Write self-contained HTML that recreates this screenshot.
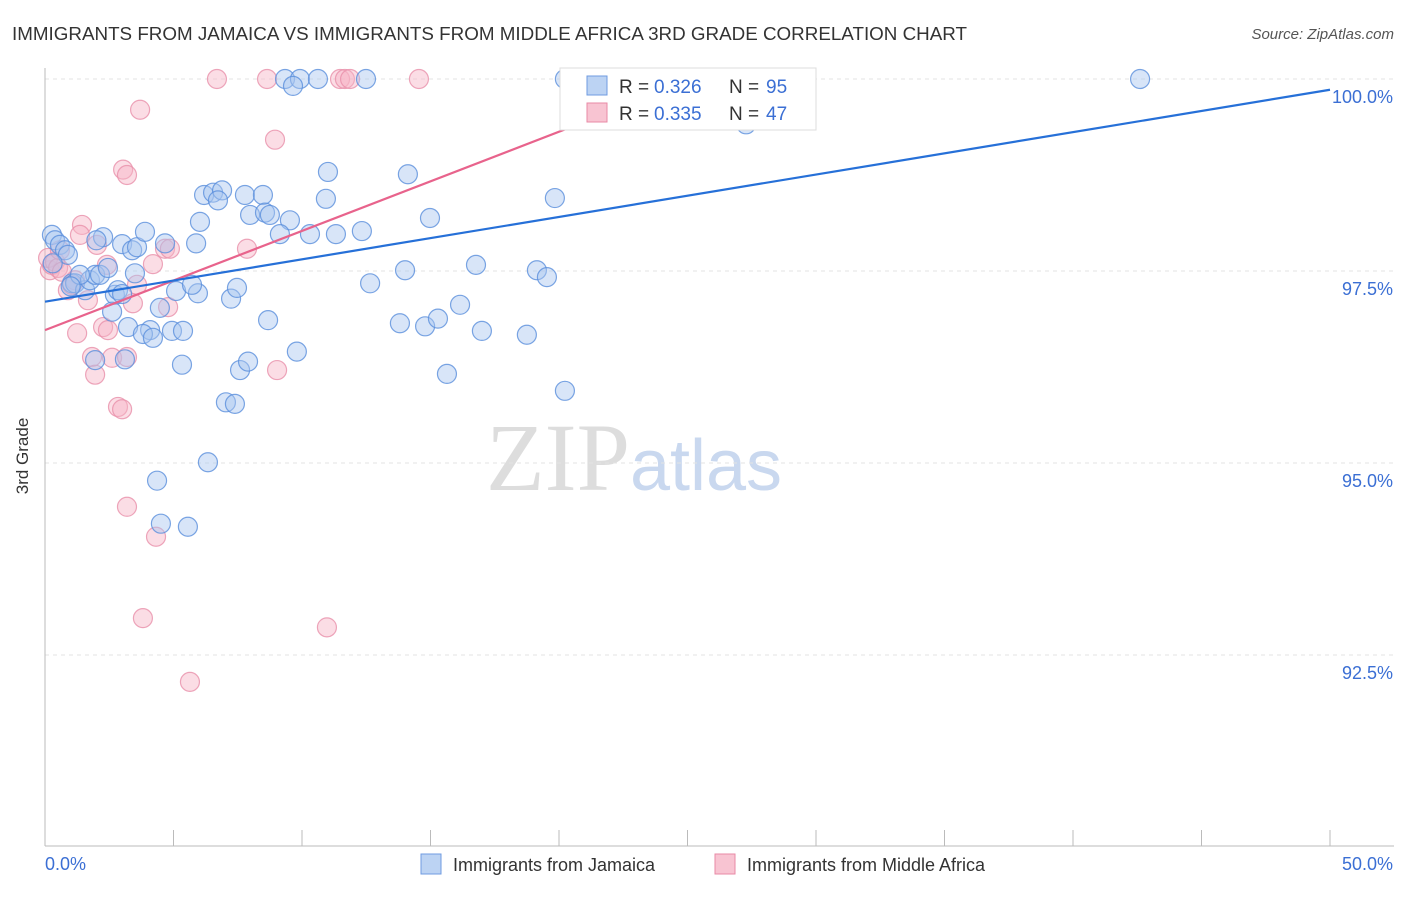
<!DOCTYPE html>
<html><head><meta charset="utf-8"><style>
body{margin:0;background:#fff;font-family:"Liberation Sans",sans-serif;}
</style></head><body>
<svg width="1406" height="892" xmlns="http://www.w3.org/2000/svg" font-family="Liberation Sans, sans-serif">
<text x="12" y="40" font-size="18" fill="#333" textLength="955" lengthAdjust="spacingAndGlyphs">IMMIGRANTS FROM JAMAICA VS IMMIGRANTS FROM MIDDLE AFRICA 3RD GRADE CORRELATION CHART</text>
<text x="1394" y="39" font-size="15" fill="#555" font-style="italic" text-anchor="end">Source: ZipAtlas.com</text>
<text x="634" y="490" font-size="96" fill="#ddd" text-anchor="middle" font-family="Liberation Serif, serif">ZIP<tspan fill="#c9d8ef" font-family="Liberation Sans, sans-serif" font-size="72">atlas</tspan></text>
<g id="grid"></g>
<line x1="45" y1="68" x2="45" y2="846" stroke="#bbb"/>
<line x1="45" y1="846" x2="1394" y2="846" stroke="#bbb"/>
<text x="28" y="456" font-size="17" fill="#333" transform="rotate(-90 28 456)" text-anchor="middle">3rd Grade</text>
<text x="45" y="870" font-size="18" fill="#3b6fd4">0.0%</text>
<text x="1393" y="870" font-size="18" fill="#3b6fd4" text-anchor="end">50.0%</text>
<g id="pts"></g>
<g id="lines"></g>
<g>
<rect x="560" y="68" width="256" height="62" fill="#fff" stroke="#ddd"/>
<rect x="587" y="76" width="20" height="19" fill="#bcd3f3" stroke="#6f9be0"/>
<rect x="587" y="103" width="20" height="19" fill="#f8c4d2" stroke="#e88aa6"/>
<text x="619" y="93" font-size="19" fill="#333">R =</text>
<text x="654" y="93" font-size="19" fill="#3b6fd4">0.326</text>
<text x="729" y="93" font-size="19" fill="#333">N =</text>
<text x="766" y="93" font-size="19" fill="#3b6fd4">95</text>
<text x="619" y="120" font-size="19" fill="#333">R =</text>
<text x="654" y="120" font-size="19" fill="#3b6fd4">0.335</text>
<text x="729" y="120" font-size="19" fill="#333">N =</text>
<text x="766" y="120" font-size="19" fill="#3b6fd4">47</text>
</g>
<g>
<rect x="421" y="854" width="20" height="20" fill="#bcd3f3" stroke="#6f9be0"/>
<text x="453" y="871" font-size="18" fill="#333">Immigrants from Jamaica</text>
<rect x="715" y="854" width="20" height="20" fill="#f8c4d2" stroke="#e88aa6"/>
<text x="747" y="871" font-size="18" fill="#333">Immigrants from Middle Africa</text>
</g>
</svg>
<script>
const yTicks=[100,97.5,95,92.5];
const yTickLabels=["100.0%","97.5%","95.0%","92.5%"];
const xTicks=[0,5,10,15,20,25,30,35,40,45,50];
const blueX=[0.27,0.39,0.58,0.78,0.89,1.05,1.17,1.56,1.75,1.95,2.14,1.36,2.26,3.0,3.39,3.58,3.89,4.67,5.88,3.5,2.45,2.72,2.84,2.61,3.23,4.09,3.81,4.2,3.11,1.95,4.47,4.94,5.37,5.1,5.95,5.72,5.33,6.19,6.54,6.89,6.73,6.03,7.78,7.98,8.48,8.56,8.75,9.53,9.14,10.31,11.32,12.33,10.93,11.01,14.12,14.98,19.84,7.24,7.47,8.68,9.8,7.59,7.9,7.04,7.39,6.34,4.36,4.51,5.56,12.65,14.01,13.81,14.79,15.29,16.15,16.77,17.0,15.64,18.75,19.14,19.53,20.23,9.34,9.92,10.62,12.49,9.65,20.23,25.72,27.28,42.61,0.3,1.0,2.0,3.0];
const blueY=[97.97,97.9,97.84,97.77,97.71,97.34,97.34,97.25,97.38,97.45,97.45,97.45,97.94,97.85,97.77,97.81,98.01,97.86,97.86,97.47,97.54,97.19,97.25,96.97,96.77,96.73,96.68,96.63,96.35,96.34,97.02,96.72,96.72,97.24,97.21,97.32,96.28,98.49,98.52,98.55,98.42,98.14,98.49,98.23,98.49,98.26,98.23,98.16,97.98,97.98,97.98,98.02,98.44,98.79,98.76,98.19,98.45,97.14,97.28,96.86,96.45,96.21,96.32,95.79,95.77,95.01,94.77,94.21,94.17,97.34,97.51,96.82,96.78,96.88,97.06,97.58,96.72,96.16,96.67,97.51,97.42,95.94,100,100,100,100,99.91,100,100,99.41,100,97.6,97.3,97.9,97.2];
const pinkX=[0.19,0.27,0.12,0.39,0.51,0.66,0.58,0.89,1.05,1.17,1.44,1.36,2.02,2.41,1.67,1.25,2.26,2.45,1.83,1.95,2.61,3.19,2.84,3.0,3.19,4.32,3.81,5.64,10.97,3.7,3.04,3.19,8.95,7.86,4.67,4.86,4.2,3.42,3.58,4.79,9.03,6.69,8.64,11.48,11.67,11.87,14.55,25.6];
const pinkY=[97.51,97.58,97.67,97.62,97.54,97.49,97.77,97.25,97.32,97.38,98.1,97.97,97.84,97.58,97.12,96.69,96.77,96.73,96.38,96.15,96.37,96.38,95.73,95.7,94.43,94.04,92.98,92.15,92.86,99.6,98.82,98.75,99.21,97.79,97.79,97.79,97.59,97.08,97.32,97.03,96.21,100,100,100,100,100,100,100];
const blueLine=[[0,97.1],[50,99.86]];
const pinkLine=[[0,96.73],[25.7,100.05]];
const X=v=>45+v*(1330-45)/50;
const Y=v=>79+(100-v)*192/2.5;
const NS="http://www.w3.org/2000/svg";
const grid=document.getElementById('grid');
yTicks.forEach((t,i)=>{
 const l=document.createElementNS(NS,'line');
 
 
 l.setAttribute('x1',45);l.setAttribute('x2',1394);l.setAttribute('y1',Y(t));l.setAttribute('y2',Y(t));
 l.setAttribute('stroke','#e3e3e3');l.setAttribute('stroke-dasharray','4 4');
 grid.appendChild(l);
 const tx=document.createElementNS(NS,'text');
 
 
 tx.setAttribute('x',1393);tx.setAttribute('y',Y(t)+24);tx.setAttribute('text-anchor','end');
 tx.setAttribute('font-size','18');tx.setAttribute('fill','#3b6fd4');tx.textContent=yTickLabels[i];
 grid.appendChild(tx);
});
xTicks.forEach(t=>{
 const l=document.createElementNS(NS,'line');
 
 
 l.setAttribute('x1',X(t));l.setAttribute('x2',X(t));l.setAttribute('y1',830);l.setAttribute('y2',846);
 l.setAttribute('stroke','#bbb');
 grid.appendChild(l);
});
const pts=document.getElementById('pts');
function dots(xs,ys,fill,stroke,name){
 xs.forEach((x,i)=>{
  const c=document.createElementNS(NS,'circle');
  
  
  c.setAttribute('cx',X(x));c.setAttribute('cy',Y(ys[i]));c.setAttribute('r',9.5);
  c.setAttribute('fill',fill);c.setAttribute('fill-opacity','0.45');c.setAttribute('stroke',stroke);c.setAttribute('stroke-opacity','0.8');c.setAttribute('stroke-width','1.2');
  pts.appendChild(c);
 });
}
dots(pinkX,pinkY,'#f6b3c6','#e890aa','point-middle-africa');
dots(blueX,blueY,'#a9c6ef','#5a8fdc','point-jamaica');
const lines=document.getElementById('lines');
function tl(p,col,name){
 const l=document.createElementNS(NS,'line');
 
 
 l.setAttribute('x1',X(p[0][0]));l.setAttribute('y1',Y(p[0][1]));l.setAttribute('x2',X(p[1][0]));l.setAttribute('y2',Y(p[1][1]));
 l.setAttribute('stroke',col);l.setAttribute('stroke-width','2.2');
 lines.appendChild(l);
}
tl(pinkLine,'#e8638c','trend-middle-africa');
tl(blueLine,'#2670d8','trend-jamaica');
</script>
</body></html>
